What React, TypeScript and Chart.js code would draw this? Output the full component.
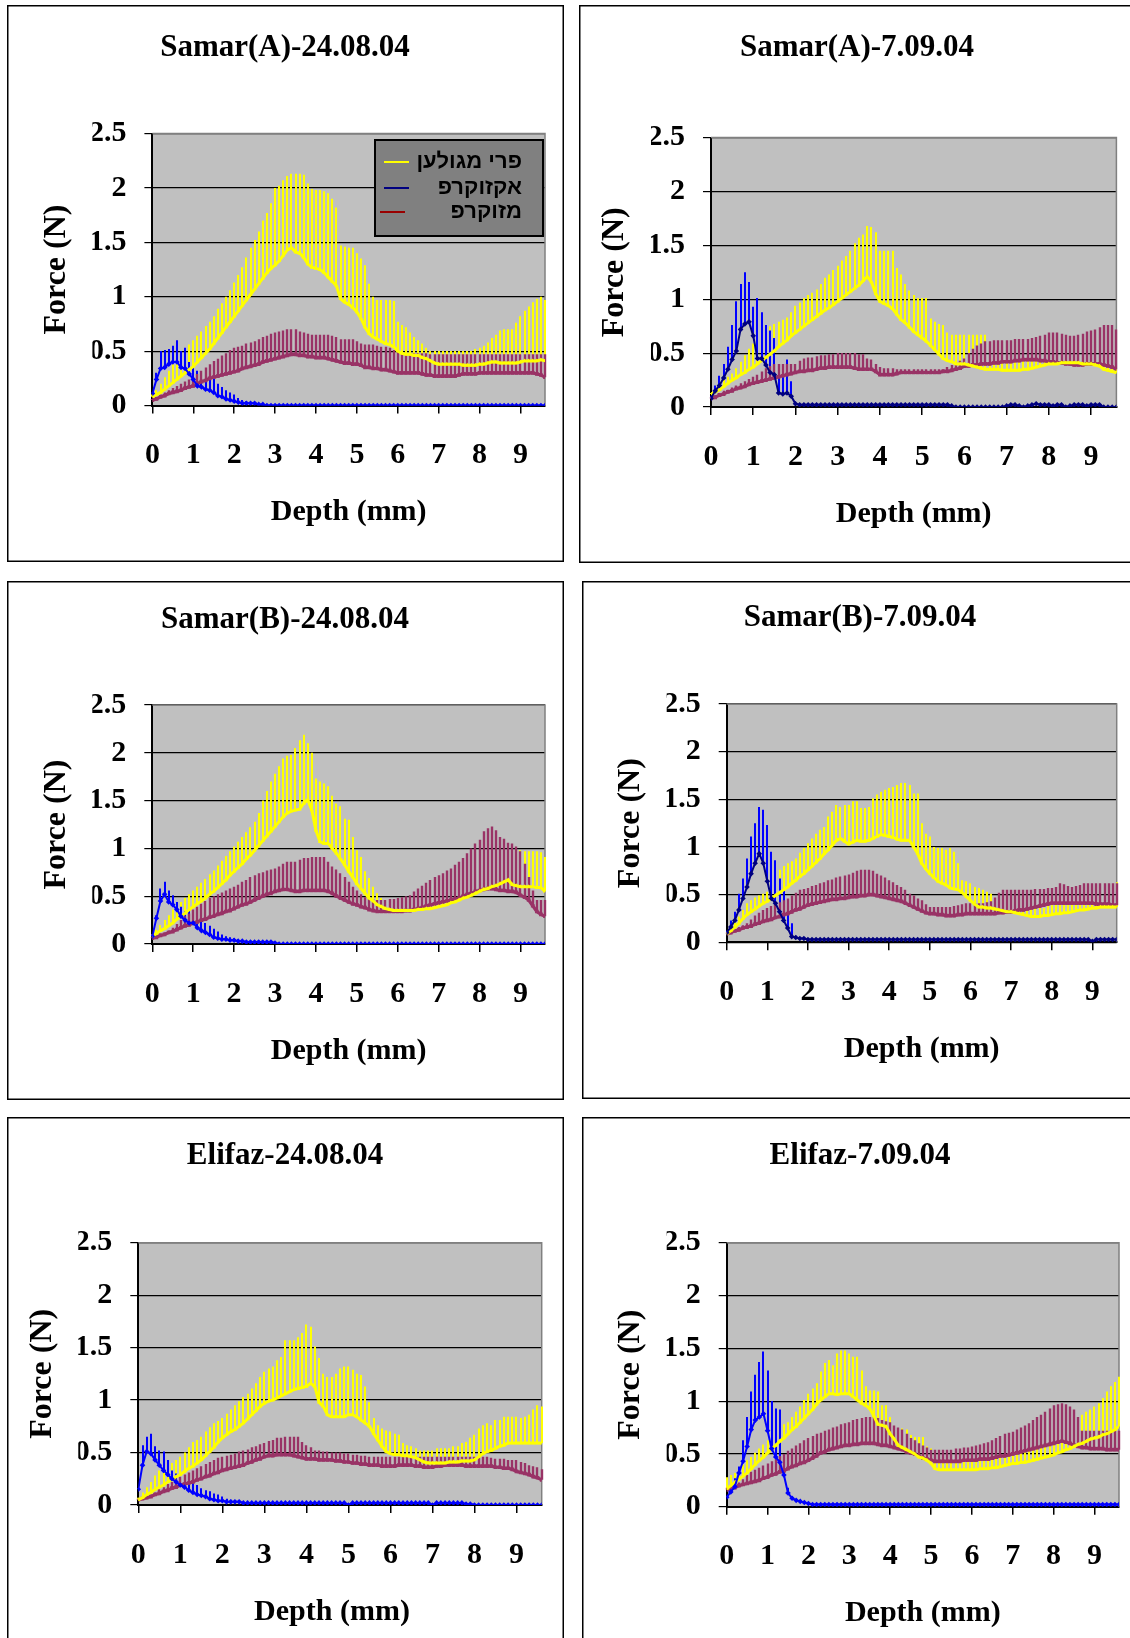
import React, { useEffect, useRef } from 'react';
import { Chart, registerables } from 'chart.js';

Chart.register(...registerables);

// ---------- data ----------
const DEPTH = [
  0, 0.1, 0.2, 0.3, 0.4, 0.5, 0.6, 0.7, 0.8, 0.9,
  1, 1.1, 1.2, 1.3, 1.4, 1.5, 1.6, 1.7, 1.8, 1.9,
  2, 2.1, 2.2, 2.3, 2.4, 2.5, 2.6, 2.7, 2.8, 2.9,
  3, 3.1, 3.2, 3.3, 3.4, 3.5, 3.6, 3.7, 3.8, 3.9,
  4, 4.1, 4.2, 4.3, 4.4, 4.5, 4.6, 4.7, 4.8, 4.9,
  5, 5.1, 5.2, 5.3, 5.4, 5.5, 5.6, 5.7, 5.8, 5.9,
  6, 6.1, 6.2, 6.3, 6.4, 6.5, 6.6, 6.7, 6.8, 6.9,
  7, 7.1, 7.2, 7.3, 7.4, 7.5, 7.6, 7.7, 7.8, 7.9,
  8, 8.1, 8.2, 8.3, 8.4, 8.5, 8.6, 8.7, 8.8, 8.9,
  9, 9.1, 9.2, 9.3, 9.4, 9.5, 9.6,
];
const X_TICKS = [0, 1, 2, 3, 4, 5, 6, 7, 8, 9];
const Y_TICKS = [0, 0.5, 1, 1.5, 2, 2.5];
const SERIES = ['פרי מגולען', 'אקזוקרפ', 'מזוקרפ'];
const TITLES = [
  'Samar(A)-24.08.04', 'Samar(A)-7.09.04',
  'Samar(B)-24.08.04', 'Samar(B)-7.09.04',
  'Elifaz-24.08.04', 'Elifaz-7.09.04',
];
const X_TITLE = 'Depth (mm)';
const Y_TITLE = 'Force (N)';

// Panel 1 : Samar(A)-24.08.04
const Y1_MEAN = [
  .08, .10, .12, .15, .18, .21, .24, .27, .30, .33,
  .36, .40, .44, .48, .52, .57, .62, .67, .72, .77,
  .82, .87, .92, .97, 1.02, 1.07, 1.12, 1.17, 1.22, 1.26,
  1.29, 1.33, 1.38, 1.43, 1.45, 1.41, 1.40, 1.36, 1.30, 1.27,
  1.26, 1.25, 1.22, 1.18, 1.14, 1.10, .98, .95, .93, .90,
  .86, .80, .72, .66, .63, .61, .59, .57, .56, .54,
  .50, .48, .47, .47, .46, .46, .44, .43, .41, .39,
  .38, .38, .38, .38, .38, .38, .37, .37, .37, .37,
  .38, .38, .39, .40, .40, .39, .39, .39, .39, .39,
  .40, .41, .41, .41, .41, .42, .41,
];
const Y1_UPPER = [
  .10, .14, .20, .26, .32, .38, .43, .48, .52, .56,
  .60, .64, .68, .73, .77, .82, .89, .94, 1.00, 1.06,
  1.13, 1.20, 1.27, 1.36, 1.45, 1.52, 1.60, 1.70, 1.77, 1.86,
  2.00, 2.02, 2.07, 2.11, 2.13, 2.13, 2.13, 2.12, 2.04, 1.99,
  1.98, 1.98, 1.97, 1.95, 1.90, 1.82, 1.47, 1.46, 1.45, 1.45,
  1.40, 1.35, 1.29, 1.12, 1.00, .97, .97, .97, .97, .96,
  .77, .74, .72, .67, .63, .60, .57, .53, .50, .50,
  .50, .50, .50, .50, .50, .50, .50, .50, .50, .52,
  .53, .55, .58, .62, .65, .69, .70, .70, .70, .76,
  .82, .87, .91, .95, .98, 1.00, .97,
];
const B1_MEAN = [
  .11, .24, .34, .35, .38, .40, .40, .35, .34, .29,
  .24, .18, .17, .15, .14, .12, .09, .08, .06, .05,
  .04, .03, .02, .02, .02, .02, .01, .01, 0, 0,
  0, 0, 0, 0, 0, 0, 0, 0, 0, 0,
  0, 0, 0, 0, 0, 0, 0, 0, 0, 0,
  0, 0, 0, 0, 0, 0, 0, 0, 0, 0,
  0, 0, 0, 0, 0, 0, 0, 0, 0, 0,
  0, 0, 0, 0, 0, 0, 0, 0, 0, 0,
  0, 0, 0, 0, 0, 0, 0, 0, 0, 0,
  0, 0, 0, 0, 0, 0, 0,
];
const B1_UPPER = [
  .12, .30, .50, .51, .52, .55, .60, .50, .53, .40,
  .35, .32, .30, .28, .27, .25, .20, .17, .14, .12,
  .10, .07, .05, .04, .03, .03, .02, .01,
];
const M1_MEAN = [
  .05, .06, .08, .09, .11, .12, .13, .14, .16, .17,
  .18, .20, .22, .23, .25, .26, .27, .28, .29, .30,
  .31, .32, .34, .35, .36, .37, .38, .40, .41, .42,
  .43, .44, .45, .46, .47, .47, .46, .46, .45, .45,
  .44, .44, .44, .43, .42, .41, .40, .39, .39, .38,
  .38, .37, .35, .35, .34, .34, .33, .33, .32, .31,
  .30, .30, .30, .30, .30, .30, .29, .28, .28, .27,
  .27, .27, .27, .27, .27, .28, .29, .29, .29, .29,
  .30, .30, .30, .30, .30, .30, .30, .30, .30, .30,
  .30, .30, .30, .30, .29, .28, .26,
];
const M1_UPPER = [
  .06, .08, .10, .12, .14, .16, .18, .20, .22, .24,
  .26, .29, .32, .35, .38, .41, .43, .46, .48, .51,
  .53, .54, .55, .57, .58, .59, .61, .63, .64, .66,
  .67, .68, .69, .70, .70, .70, .68, .67, .66, .65,
  .65, .65, .65, .65, .64, .63, .61, .61, .61, .61,
  .59, .57, .56, .56, .56, .55, .54, .54, .53, .51,
  .50, .49, .48, .48, .48, .48, .48, .48, .47, .47,
  .47, .47, .47, .47, .47, .47, .47, .47, .47, .47,
  .47, .47, .47, .47, .47, .47, .47, .47, .47, .47,
  .47, .47, .47, .47, .47, .47, .47,
];

// Panel 2 : Samar(A)-7.09.04
const Y2_MEAN = [
  .12, .14, .16, .19, .22, .25, .27, .30, .32, .35,
  .37, .40, .43, .46, .49, .52, .56, .59, .62, .66,
  .69, .72, .75, .78, .81, .84, .87, .90, .92, .95,
  .98, 1.01, 1.04, 1.07, 1.10, 1.13, 1.17, 1.21, 1.16, 1.05,
  .98, .96, .94, .91, .86, .81, .78, .74, .70, .67,
  .64, .61, .57, .53, .49, .45, .43, .42, .40, .40,
  .40, .39, .38, .37, .36, .35, .35, .35, .35, .34,
  .34, .34, .34, .34, .35, .35, .36, .37, .38, .39,
  .40, .40, .40, .41, .41, .41, .41, .41, .40, .40,
  .40, .39, .38, .35, .34, .33, .32,
];
const Y2_UPPER = [
  .13, .17, .21, .25, .28, .31, .36, .42, .48, .54,
  .59, .63, .68, .72, .75, .77, .79, .81, .83, .88,
  .94, .97, 1.01, 1.04, 1.06, 1.09, 1.14, 1.20, 1.23, 1.27,
  1.31, 1.36, 1.40, 1.45, 1.52, 1.57, 1.60, 1.68, 1.67, 1.62,
  1.45, 1.45, 1.45, 1.45, 1.29, 1.23, 1.14, 1.08, 1.04, 1.01,
  1.01, 1.01, .82, .79, .77, .76, .69, .67, .67, .67,
  .67, .67, .67, .67, .67, .67, .55, .52, .52, .50,
  .50, .50, .50, .50, .50, .50, .50, .50, .52, .52,
  .52, .52, .53, .53, .53, .54, .54, .54, .55, .55,
  .55, .56, .57, .57, .56, .56, .55,
];
const B2_MEAN = [
  .08, .15, .20, .27, .35, .44, .52, .72, .77, .79,
  .66, .45, .45, .39, .32, .30, .13, .12, .13, .10,
  .03, .02, .02, .02, .02, .02, .02, .02, .02, .02,
  .02, .02, .02, .02, .02, .02, .02, .02, .02, .02,
  .02, .02, .02, .02, .02, .02, .02, .02, .02, .02,
  .02, .02, .02, .02, .02, .02, .02, .01, 0, 0,
  0, 0, 0, 0, 0, 0, 0, 0, 0, 0,
  .01, .02, .02, .01, 0, .01, .02, .03, .02, .02,
  .02, .01, .02, .02, 0, .01, .02, .02, .02, .01,
  .02, .02, .02, 0, 0, 0, 0,
];
const B2_UPPER = [
  .10, .20, .29, .40, .56, .76, .98, 1.14, 1.25, 1.16,
  .93, 1.01, .88, .76, .71, .64, .40, .39, .44, .24,
  .05,
];
const M2_MEAN = [
  .08, .09, .11, .12, .14, .15, .17, .18, .19, .21,
  .22, .23, .24, .25, .26, .27, .28, .29, .30, .31,
  .32, .33, .33, .34, .34, .35, .36, .36, .37, .37,
  .37, .37, .37, .37, .36, .35, .35, .35, .35, .33,
  .30, .30, .30, .30, .31, .32, .32, .32, .32, .32,
  .32, .32, .32, .32, .32, .33, .33, .34, .35, .36,
  .38, .38, .39, .39, .40, .40, .40, .41, .41, .42,
  .42, .42, .43, .43, .44, .44, .44, .44, .43, .43,
  .42, .42, .41, .41, .40, .40, .39, .39, .39, .40,
  .40, .40, .40, .39, .38, .37, .35,
];
const M2_UPPER = [
  .09, .11, .13, .15, .16, .18, .20, .22, .24, .26,
  .28, .30, .33, .36, .38, .40, .40, .40, .40, .40,
  .40, .43, .45, .46, .46, .47, .48, .48, .49, .49,
  .50, .50, .50, .50, .50, .49, .49, .45, .44, .40,
  .37, .36, .36, .36, .35, .35, .35, .35, .35, .35,
  .35, .35, .35, .35, .35, .35, .37, .39, .41, .43,
  .45, .50, .54, .57, .59, .61, .61, .62, .62, .62,
  .62, .62, .63, .63, .63, .63, .64, .65, .66, .67,
  .69, .69, .69, .68, .67, .66, .66, .67, .68, .70,
  .71, .72, .74, .76, .76, .76, .72,
];

// Panel 3 : Samar(B)-24.08.04
const Y3_MEAN = [
  .08, .11, .14, .16, .19, .22, .26, .29, .32, .36,
  .39, .42, .45, .48, .52, .55, .59, .63, .67, .72,
  .76, .80, .84, .89, .93, .98, 1.03, 1.08, 1.13, 1.18,
  1.23, 1.28, 1.33, 1.37, 1.39, 1.40, 1.41, 1.47, 1.51, 1.40,
  1.19, 1.07, 1.05, 1.05, 1.00, .95, .89, .83, .76, .70,
  .63, .58, .53, .48, .45, .41, .39, .37, .36, .35,
  .35, .35, .35, .35, .35, .36, .36, .37, .37, .38,
  .39, .40, .41, .43, .44, .46, .48, .49, .51, .53,
  .55, .57, .58, .60, .61, .63, .65, .67, .62, .61,
  .60, .60, .60, .60, .59, .59, .55,
];
const Y3_UPPER = [
  .10, .15, .20, .25, .30, .36, .40, .44, .48, .52,
  .56, .60, .64, .68, .73, .77, .82, .87, .92, .97,
  1.02, 1.07, 1.12, 1.17, 1.22, 1.28, 1.37, 1.50, 1.60, 1.70,
  1.78, 1.86, 1.94, 1.97, 1.98, 2.05, 2.13, 2.19, 2.10, 2.00,
  1.73, 1.70, 1.68, 1.65, 1.55, 1.47, 1.44, 1.31, 1.30, 1.12,
  .98, .91, .76, .69, .60, .53, .48, .46, .46, .46,
  .46, .47, .48, .49, .50, .51, .53, .54, .55, .56,
  .56, .58, .60, .62, .65, .67, .70, .73, .76, .80,
  .83, .86, .90, .93, .97, 1.05, 1.04, 1.02, 1.00, .99,
  .98, .97, .97, .97, .97, .96, .91,
];
const B3_MEAN = [
  .08, .27, .45, .52, .44, .41, .36, .29, .25, .22,
  .22, .17, .14, .12, .10, .07, .06, .05, .05, .04,
  .04, .03, .03, .02, .02, .02, .02, .02, .02, .02,
  .01, 0, 0, 0, 0, 0, 0, 0, 0, 0,
  0, 0, 0, 0, 0, 0, 0, 0, 0, 0,
  0, 0, 0, 0, 0, 0, 0, 0, 0, 0,
  0, 0, 0, 0, 0, 0, 0, 0, 0, 0,
  0, 0, 0, 0, 0, 0, 0, 0, 0, 0,
  0, 0, 0, 0, 0, 0, 0, 0, 0, 0,
  0, 0, 0, 0, 0, 0, 0,
];
const B3_UPPER = [
  .10, .30, .58, .65, .56, .51, .44, .39, .34, .36,
  .32, .28, .26, .22, .19, .16, .13, .10, .08, .07,
  .06, .05, .04,
];
const M3_MEAN = [
  .06, .07, .09, .10, .12, .13, .15, .17, .19, .20,
  .22, .23, .25, .26, .28, .29, .31, .32, .34, .35,
  .37, .39, .41, .42, .44, .46, .48, .50, .52, .53,
  .55, .56, .57, .57, .56, .55, .55, .56, .56, .56,
  .56, .56, .56, .55, .53, .50, .48, .46, .44, .42,
  .41, .39, .38, .36, .35, .34, .34, .34, .34, .34,
  .34, .34, .35, .35, .36, .37, .38, .40, .41, .42,
  .43, .44, .45, .46, .47, .48, .50, .52, .53, .55,
  .56, .57, .58, .58, .57, .56, .56, .55, .55, .54,
  .51, .49, .46, .40, .34, .31, .29,
];
const M3_UPPER = [
  .07, .09, .11, .12, .14, .17, .21, .25, .29, .32,
  .36, .39, .42, .45, .48, .50, .52, .54, .56, .58,
  .60, .62, .65, .67, .70, .72, .74, .75, .77, .78,
  .79, .81, .84, .86, .86, .86, .88, .90, .90, .91,
  .91, .91, .91, .86, .81, .78, .74, .70, .65, .60,
  .56, .52, .49, .48, .47, .46, .46, .46, .47, .47,
  .48, .49, .50, .51, .55, .58, .61, .64, .67, .70,
  .72, .74, .77, .79, .83, .86, .90, .95, 1.00, 1.05,
  1.09, 1.18, 1.21, 1.23, 1.19, 1.12, 1.10, 1.06, 1.05, 1.02,
  .97, .84, .70, .56, .46, .46, .46,
];

// Panel 4 : Samar(B)-7.09.04
const Y4_MEAN = [
  .09, .12, .16, .20, .25, .29, .32, .35, .38, .41,
  .43, .46, .49, .52, .55, .58, .62, .65, .69, .72,
  .76, .80, .84, .88, .93, .97, 1.02, 1.07, 1.09, 1.06,
  1.03, 1.05, 1.07, 1.06, 1.06, 1.07, 1.09, 1.11, 1.13, 1.12,
  1.11, 1.10, 1.08, 1.07, 1.07, 1.07, 1.00, .93, .83, .77,
  .72, .68, .64, .62, .60, .57, .56, .55, .52, .48,
  .44, .40, .37, .37, .36, .36, .35, .34, .33, .32,
  .32, .31, .30, .29, .28, .27, .27, .27, .28, .28,
  .29, .30, .30, .31, .31, .32, .33, .34, .34, .35,
  .36, .36, .37, .37, .37, .37, .37,
];
const Y4_UPPER = [
  .11, .16, .21, .27, .34, .41, .44, .47, .49, .51,
  .53, .62, .70, .76, .80, .83, .85, .88, .94, .99,
  1.04, 1.09, 1.14, 1.18, 1.21, 1.32, 1.37, 1.44, 1.42, 1.44,
  1.44, 1.48, 1.48, 1.41, 1.41, 1.42, 1.51, 1.55, 1.58, 1.60,
  1.62, 1.63, 1.65, 1.67, 1.67, 1.65, 1.56, 1.56, 1.25, 1.14,
  1.11, 1.00, .99, .99, .97, .99, .95, .83, .65, .64,
  .62, .58, .57, .55, .53, .51, .46, .44, .41, .39,
  .36, .36, .36, .36, .36, .36, .36, .36, .36, .38,
  .39, .40, .41, .42, .42, .45, .47, .50, .50, .50,
  .50, .50, .50, .50, .58, .60, .63,
];
const B4_MEAN = [
  .10, .16, .23, .34, .46, .58, .72, .83, .93, .83,
  .64, .46, .41, .32, .23, .15, .06, .05, .04, .04,
  .03, .03, .03, .03, .03, .03, .03, .03, .03, .03,
  .03, .03, .03, .03, .03, .03, .03, .03, .03, .03,
  .03, .03, .03, .03, .03, .03, .03, .03, .03, .03,
  .03, .03, .03, .03, .03, .03, .03, .03, .03, .03,
  .03, .03, .03, .03, .03, .03, .03, .03, .03, .03,
  .03, .03, .03, .03, .03, .03, .03, .03, .03, .03,
  .03, .03, .03, .03, .03, .03, .03, .03, .03, .03,
  .01, .03, .03, .03, .03, .03, .03,
];
const B4_UPPER = [
  .12, .23, .32, .51, .67, .88, 1.11, 1.25, 1.42, 1.39,
  1.23, .95, .86, .67, .55, .43, .20, .07,
];
const M4_MEAN = [
  .09, .10, .12, .13, .15, .16, .17, .19, .20, .22,
  .23, .24, .26, .27, .29, .30, .32, .34, .35, .37,
  .39, .40, .41, .42, .43, .44, .45, .45, .46, .46,
  .47, .48, .48, .49, .49, .50, .50, .49, .48, .47,
  .46, .45, .44, .43, .41, .39, .37, .35, .33, .31,
  .30, .30, .29, .29, .28, .28, .28, .29, .29, .30,
  .30, .30, .30, .30, .30, .30, .30, .31, .31, .32,
  .32, .33, .34, .34, .35, .36, .37, .38, .39, .40,
  .41, .41, .41, .41, .41, .41, .41, .41, .41, .41,
  .41, .40, .40, .40, .40, .39, .39,
];
const M4_UPPER = [
  .10, .12, .14, .16, .18, .20, .24, .28, .31, .34,
  .36, .38, .40, .42, .44, .46, .49, .52, .55, .56,
  .57, .59, .60, .62, .63, .65, .66, .68, .69, .70,
  .71, .73, .75, .76, .76, .76, .75, .72, .70, .68,
  .65, .63, .60, .58, .55, .51, .49, .46, .44, .40,
  .37, .37, .37, .37, .37, .37, .38, .39, .40, .41,
  .41, .41, .41, .41, .42, .43, .47, .52, .55, .55,
  .55, .55, .55, .55, .55, .55, .56, .56, .56, .57,
  .57, .58, .62, .61, .59, .58, .59, .60, .62, .62,
  .62, .62, .62, .62, .62, .62, .62,
];

// Panel 5 : Elifaz-24.08.04
const Y5_MEAN = [
  .05, .07, .10, .12, .15, .17, .19, .22, .24, .27,
  .29, .32, .35, .37, .40, .43, .47, .51, .55, .60,
  .64, .67, .70, .72, .75, .78, .82, .86, .90, .94,
  .97, .99, 1.00, 1.02, 1.04, 1.06, 1.08, 1.10, 1.11, 1.12,
  1.13, 1.16, 1.13, .98, .94, .86, .84, .84, .84, .84,
  .86, .86, .84, .81, .78, .75, .68, .62, .56, .51,
  .49, .48, .48, .47, .47, .46, .45, .43, .41, .40,
  .40, .40, .40, .40, .41, .41, .41, .42, .42, .42,
  .43, .46, .49, .51, .52, .54, .56, .57, .59, .59,
  .59, .59, .59, .59, .59, .59, .59,
];
const Y5_UPPER = [
  .07, .12, .17, .22, .28, .33, .35, .38, .40, .43,
  .46, .50, .55, .60, .62, .65, .70, .74, .78, .80,
  .83, .87, .91, .95, .99, 1.03, 1.06, 1.11, 1.16, 1.22,
  1.27, 1.30, 1.32, 1.38, 1.41, 1.57, 1.57, 1.57, 1.60, 1.64,
  1.72, 1.70, 1.51, 1.40, 1.25, 1.22, 1.22, 1.25, 1.30, 1.32,
  1.32, 1.29, 1.25, 1.24, 1.13, .98, .83, .76, .73, .71,
  .70, .68, .67, .59, .57, .56, .54, .52, .52, .52,
  .52, .54, .54, .54, .54, .56, .56, .59, .60, .64,
  .67, .73, .76, .78, .76, .81, .81, .84, .84, .84,
  .84, .83, .84, .86, .91, .95, .94,
];
const B5_MEAN = [
  .15, .38, .51, .49, .43, .38, .33, .29, .25, .22,
  .19, .17, .14, .12, .10, .09, .08, .06, .05, .04,
  .04, .03, .03, .03, .03, .02, .02, .02, .02, .02,
  .02, .02, .02, .02, .02, .02, .02, .02, .02, .02,
  .02, .02, .02, .02, .02, .02, .02, .02, .02, .02,
  0, .02, .02, .02, .02, .02, .02, .02, .02, .02,
  .02, .02, .02, .02, .02, .02, .02, .02, .02, .02,
  0, .02, .02, .02, .02, .02, .02, .02, .01, .01,
  0, 0, 0, 0, 0, 0, 0, 0, 0, 0,
  0, 0, 0, 0, 0, 0, 0,
];
const B5_UPPER = [
  .16, .57, .65, .68, .56, .52, .51, .43, .33, .30,
  .25, .27, .22, .21, .19, .16, .14, .13, .11, .10,
  .08, .06, .05, .04,
];
const M5_MEAN = [
  .05, .06, .07, .08, .10, .11, .13, .14, .16, .17,
  .19, .20, .21, .22, .24, .25, .27, .28, .30, .31,
  .33, .34, .35, .36, .37, .38, .40, .41, .43, .44,
  .46, .47, .47, .48, .48, .48, .48, .47, .46, .45,
  .44, .44, .44, .43, .43, .43, .43, .42, .42, .41,
  .41, .40, .40, .39, .39, .38, .38, .38, .37, .37,
  .37, .37, .38, .38, .38, .38, .37, .37, .36, .36,
  .36, .37, .37, .38, .38, .38, .38, .38, .37, .37,
  .37, .37, .37, .37, .37, .36, .36, .35, .35, .34,
  .32, .31, .30, .29, .27, .26, .24,
];
const M5_UPPER = [
  .06, .07, .09, .10, .12, .15, .17, .20, .22, .25,
  .27, .29, .31, .33, .35, .37, .39, .41, .43, .45,
  .46, .47, .48, .49, .51, .52, .53, .55, .56, .58,
  .59, .61, .62, .64, .64, .65, .65, .65, .65, .60,
  .57, .55, .52, .52, .51, .51, .50, .50, .50, .49,
  .49, .48, .48, .47, .47, .46, .46, .46, .46, .46,
  .46, .46, .46, .46, .46, .46, .46, .46, .46, .46,
  .46, .46, .46, .46, .46, .46, .46, .46, .46, .46,
  .46, .46, .46, .46, .45, .44, .44, .44, .43, .43,
  .43, .41, .40, .38, .37, .36, .34,
];

// Panel 6 : Elifaz-7.09.04
const Y6_MEAN = [
  .17, .20, .23, .26, .29, .32, .36, .40, .44, .47,
  .51, .55, .58, .62, .65, .69, .73, .76, .80, .84,
  .88, .92, .97, 1.01, 1.04, 1.07, 1.07, 1.06, 1.07, 1.07,
  1.07, 1.04, 1.01, .98, .96, .93, .86, .78, .77, .76,
  .69, .64, .58, .56, .54, .52, .50, .47, .46, .44,
  .41, .36, .35, .35, .35, .35, .35, .35, .35, .35,
  .35, .35, .36, .36, .36, .37, .37, .38, .39, .40,
  .41, .41, .42, .42, .43, .44, .45, .46, .47, .48,
  .49, .51, .52, .54, .55, .57, .59, .60, .62, .64,
  .65, .66, .68, .69, .71, .73, .76,
];
const Y6_UPPER = [
  .28, .30, .32, .35, .40, .44, .47, .51, .55, .59,
  .63, .68, .73, .75, .78, .80, .85, .90, .95, 1.01,
  1.07, 1.12, 1.17, 1.28, 1.36, 1.39, 1.34, 1.45, 1.48, 1.48,
  1.45, 1.42, 1.42, 1.29, 1.14, 1.10, 1.10, 1.09, .96, .96,
  .85, .76, .74, .74, .73, .68, .66, .66, .66, .57,
  .55, .48, .46, .46, .45, .45, .45, .45, .45, .45,
  .45, .45, .45, .45, .46, .46, .47, .48, .49, .50,
  .52, .52, .53, .53, .54, .54, .56, .57, .60, .61,
  .63, .66, .69, .72, .76, .82, .85, .87, .90, .92,
  .95, .98, 1.03, 1.09, 1.14, 1.18, 1.23,
];
const B6_MEAN = [
  .09, .14, .19, .32, .43, .57, .73, .82, .85, .88,
  .72, .55, .47, .42, .30, .13, .08, .06, .05, .04,
  .03, .02, .02, .02, .02, .02, .02, .02, .02, .02,
  .02, .02, .02, .02, .02, .02, .02, .02, .02, .02,
  .02, .02, .02, .02, .02, .02, .02, .02, .02, .02,
  .02, .02, .02, .02, .02, .02, .02, .02, .02, .02,
  .02, .02, .02, .02, .02, .02, .02, .02, .02, .02,
  .02, .02, .02, .02, .02, .02, .02, .02, .02, .02,
  .02, .02, .02, .02, .02, .02, .02, .02, .02, .02,
  .02, .02, .02, .02, .02, .02, .02,
];
const B6_UPPER = [
  .10, .19, .27, .38, .63, .85, 1.09, 1.25, 1.37, 1.47,
  1.29, 1.00, .93, .92, .40, .18, .10, .07,
];
const M6_MEAN = [
  .16, .17, .18, .20, .21, .22, .23, .24, .25, .27,
  .28, .30, .31, .33, .34, .36, .38, .39, .41, .42,
  .44, .46, .48, .51, .52, .54, .55, .56, .57, .58,
  .58, .59, .59, .60, .60, .60, .60, .59, .58, .58,
  .57, .56, .55, .54, .52, .51, .50, .48, .46, .45,
  .44, .43, .43, .43, .43, .43, .43, .43, .44, .44,
  .44, .44, .45, .45, .45, .46, .47, .48, .48, .49,
  .50, .51, .52, .53, .54, .55, .56, .57, .58, .59,
  .60, .61, .62, .61, .60, .58, .57, .56, .56, .55,
  .55, .55, .55, .54, .54, .54, .54,
];
const M6_UPPER = [
  .18, .19, .21, .23, .26, .30, .33, .35, .37, .39,
  .41, .43, .45, .48, .50, .53, .55, .58, .60, .63,
  .65, .67, .69, .70, .72, .73, .75, .76, .78, .79,
  .80, .82, .83, .84, .85, .85, .85, .84, .82, .81,
  .80, .77, .75, .73, .69, .65, .63, .60, .58, .56,
  .54, .54, .54, .54, .54, .54, .55, .55, .56, .56,
  .57, .58, .59, .60, .61, .63, .65, .67, .69, .70,
  .71, .73, .75, .77, .79, .82, .85, .87, .90, .93,
  .96, .97, .98, .97, .95, .92, .85, .72, .72, .72,
  .72, .72, .72, .72, .72, .72, .72,
];

// ---------- styling / layout ----------
const YELLOW = '#FFFF00';
const BLUE = '#0000FF';
const NAVY = '#000080';
const PLUM = '#993366';
const SERIF = '"Liberation Serif", "Times New Roman", serif';
const SANS = '"Liberation Sans", "DejaVu Sans", Arial, sans-serif';

type Rect = { x: number; y: number; w: number; h: number };
type Plot = { l: number; t: number; r: number; b: number };
type PanelCfg = {
  title: string;
  box: Rect;
  plot: Plot;
  titleY: number;
  xTitleDx: number;
  legend: boolean;
  exoLine: string;
  fruit: number[][];
  exo: number[][];
  meso: number[][];
};

const PANELS: PanelCfg[] = [
  { title: TITLES[0], box: { x: 7, y: 5, w: 557, h: 557 }, plot: { l: 152.4, t: 133.5, r: 545, b: 405.5 }, titleY: 48, xTitleDx: 0, legend: true, exoLine: BLUE,
    fruit: [Y1_MEAN, Y1_UPPER], exo: [B1_MEAN, B1_UPPER], meso: [M1_MEAN, M1_UPPER] },
  { title: TITLES[1], box: { x: 579, y: 5, w: 557, h: 558 }, plot: { l: 711, t: 137.5, r: 1116.4, b: 407 }, titleY: 48, xTitleDx: 0, legend: false, exoLine: NAVY,
    fruit: [Y2_MEAN, Y2_UPPER], exo: [B2_MEAN, B2_UPPER], meso: [M2_MEAN, M2_UPPER] },
  { title: TITLES[2], box: { x: 7, y: 581, w: 557, h: 519 }, plot: { l: 152.3, t: 705, r: 545, b: 944 }, titleY: 620, xTitleDx: 0, legend: false, exoLine: BLUE,
    fruit: [Y3_MEAN, Y3_UPPER], exo: [B3_MEAN, B3_UPPER], meso: [M3_MEAN, M3_UPPER] },
  { title: TITLES[3], box: { x: 582, y: 581, w: 557, h: 518 }, plot: { l: 726.7, t: 704, r: 1116.7, b: 942.3 }, titleY: 618, xTitleDx: 0, legend: false, exoLine: NAVY,
    fruit: [Y4_MEAN, Y4_UPPER], exo: [B4_MEAN, B4_UPPER], meso: [M4_MEAN, M4_UPPER] },
  { title: TITLES[4], box: { x: 7, y: 1117, w: 557, h: 540 }, plot: { l: 138.3, t: 1242.7, r: 541.7, b: 1505 }, titleY: 1156, xTitleDx: -8, legend: false, exoLine: BLUE,
    fruit: [Y5_MEAN, Y5_UPPER], exo: [B5_MEAN, B5_UPPER], meso: [M5_MEAN, M5_UPPER] },
  { title: TITLES[5], box: { x: 582, y: 1117, w: 557, h: 540 }, plot: { l: 726.7, t: 1242.7, r: 1119, b: 1506.7 }, titleY: 1156, xTitleDx: 0, legend: false, exoLine: BLUE,
    fruit: [Y6_MEAN, Y6_UPPER], exo: [B6_MEAN, B6_UPPER], meso: [M6_MEAN, M6_UPPER] },
];

function makeDecor(cfg: PanelCfg) {
  return {
    id: 'decor',
    beforeDraw(chart: any) {
      const { ctx, chartArea: a } = chart;
      ctx.save();
      ctx.fillStyle = '#FFFFFF';
      ctx.fillRect(0, 0, chart.width, chart.height);
      ctx.fillStyle = '#C0C0C0';
      ctx.fillRect(a.left, a.top, a.right - a.left, a.bottom - a.top);
      ctx.restore();
    },
    beforeDatasetsDraw(chart: any) {
      const { ctx, chartArea: a, scales } = chart;
      const xs = scales.x;
      const ys = scales.y;
      ctx.save();
      ctx.strokeStyle = '#808080';
      ctx.lineWidth = 1.5;
      ctx.beginPath();
      ctx.moveTo(a.left, a.top);
      ctx.lineTo(a.right, a.top);
      ctx.lineTo(a.right, a.bottom);
      ctx.stroke();
      const groups: [number[][], string, number][] = [
        [cfg.fruit, YELLOW, 2],
        [cfg.exo, BLUE, 2],
        [cfg.meso, PLUM, 2.4],
      ];
      for (const [[mean, upper], color, w] of groups) {
        ctx.strokeStyle = color;
        ctx.lineWidth = w;
        ctx.beginPath();
        for (let i = 0; i < upper.length; i++) {
          if (!(upper[i] > mean[i])) continue;
          const x = Math.round(xs.getPixelForValue(DEPTH[i]));
          ctx.moveTo(x, ys.getPixelForValue(mean[i]));
          ctx.lineTo(x, ys.getPixelForValue(upper[i]));
        }
        ctx.stroke();
      }
      ctx.restore();
    },
    afterDraw(chart: any) {
      const { ctx, chartArea: a } = chart;
      ctx.save();
      ctx.fillStyle = '#000';
      ctx.textAlign = 'center';
      ctx.textBaseline = 'middle';
      ctx.font = `bold 31px ${SERIF}`;
      ctx.fillText(cfg.title, 278, cfg.titleY - cfg.box.y);
      ctx.font = `bold 30px ${SERIF}`;
      ctx.fillText(X_TITLE, (a.left + a.right) / 2 + cfg.xTitleDx, a.bottom + 107);
      ctx.font = `bold 32px ${SERIF}`;
      ctx.translate(a.left - 96, (a.top + a.bottom) / 2);
      ctx.rotate(-Math.PI / 2);
      ctx.fillText(Y_TITLE, 0, 0);
      ctx.restore();

      if (cfg.legend) {
        const right = a.right - 2;
        const top = a.top + 6.5;
        const w = 168;
        const h = 96;
        const left = right - w;
        ctx.save();
        ctx.fillStyle = '#808080';
        ctx.fillRect(left, top, w, h);
        ctx.strokeStyle = '#000';
        ctx.lineWidth = 2;
        ctx.strokeRect(left, top, w, h);
        const rows: [string, string, number][] = [
          [SERIES[0], YELLOW, 9],
          [SERIES[1], NAVY, 9],
          [SERIES[2], '#990000', 5],
        ];
        const ys = [22, 48, 72];
        ctx.font = `bold 22px ${SANS}`;
        ctx.textAlign = 'right';
        ctx.textBaseline = 'middle';
        rows.forEach(([name, color, dx], k) => {
          const y = top + ys[k];
          ctx.strokeStyle = color;
          ctx.lineWidth = 2;
          ctx.beginPath();
          ctx.moveTo(left + dx, y);
          ctx.lineTo(left + dx + 25, y);
          ctx.stroke();
          ctx.fillStyle = '#000';
          ctx.fillText(name, right - 21, y);
        });
        ctx.restore();
      }

      ctx.save();
      ctx.strokeStyle = '#000';
      ctx.lineWidth = 1.5;
      ctx.strokeRect(0.75, 0.75, chart.width - 1.5, chart.height - 1.5);
      ctx.restore();
    },
  };
}

function series(label: string, mean: number[], color: string, style: string, radius: number, width: number, order: number) {
  return {
    label,
    data: DEPTH.map((d, i) => ({ x: d, y: mean[i] })),
    borderColor: color,
    backgroundColor: color,
    borderWidth: width,
    pointStyle: style,
    pointRadius: radius,
    pointBorderWidth: 0,
    pointBackgroundColor: color,
    tension: 0,
    order,
  };
}

function Panel({ cfg }: { cfg: PanelCfg }) {
  const ref = useRef<HTMLCanvasElement>(null);
  useEffect(() => {
    const canvas = ref.current;
    if (!canvas) return;
    const l = cfg.plot.l - cfg.box.x;
    const r = cfg.plot.r - cfg.box.x;
    const t = cfg.plot.t - cfg.box.y;
    const b = cfg.plot.b - cfg.box.y;
    const tickFont = { family: SERIF, weight: 'bold' as const, size: 30 };
    const chart = new Chart(canvas, {
      type: 'line',
      data: {
        datasets: [
          series(SERIES[0], cfg.fruit[0], YELLOW, 'triangle', 2.4, 3, 1),
          series(SERIES[1], cfg.exo[0], cfg.exoLine, 'rectRot', 2.8, 2, 0),
          series(SERIES[2], cfg.meso[0], PLUM, 'rect', 2.6, 3.2, 2),
        ] as any,
      },
      options: {
        responsive: false,
        animation: false,
        devicePixelRatio: 1,
        events: [],
        layout: { padding: { left: l - 60, right: cfg.box.w - r, top: t, bottom: cfg.box.h - b - 60 } },
        plugins: { legend: { display: false }, tooltip: { enabled: false }, title: { display: false } },
        scales: {
          x: {
            type: 'linear',
            min: 0,
            max: 9.6,
            afterBuildTicks: (s: any) => { s.ticks = X_TICKS.map((v) => ({ value: v })); },
            afterFit: (s: any) => { s.height = 60; },
            grid: { drawOnChartArea: false, drawTicks: true, tickLength: 8, color: '#000', lineWidth: 1.5 },
            border: { color: '#000', width: 2 },
            ticks: { font: tickFont, color: '#000', padding: 24, maxRotation: 0, autoSkip: false, callback: (v: any) => String(v) },
          },
          y: {
            type: 'linear',
            min: 0,
            max: 2.5,
            afterBuildTicks: (s: any) => { s.ticks = Y_TICKS.map((v) => ({ value: v })); },
            afterFit: (s: any) => { s.width = 60; },
            grid: { color: '#000', lineWidth: 1.2, tickLength: 8, drawTicks: true },
            border: { color: '#000', width: 2 },
            ticks: { font: tickFont, color: '#000', padding: 18, autoSkip: false, callback: (v: any) => String(v) },
          },
        },
      } as any,
      plugins: [makeDecor(cfg) as any],
    });
    return () => chart.destroy();
  }, [cfg]);
  return (
    <canvas
      ref={ref}
      width={cfg.box.w}
      height={cfg.box.h}
      style={{ position: 'absolute', left: cfg.box.x, top: cfg.box.y, width: cfg.box.w, height: cfg.box.h }}
    />
  );
}

export default function App() {
  return (
    <div style={{ position: 'absolute', left: 0, top: 0, width: 1130, height: 1638, overflow: 'hidden', background: '#FFFFFF' }}>
      {PANELS.map((p, i) => (
        <Panel key={i} cfg={p} />
      ))}
    </div>
  );
}
